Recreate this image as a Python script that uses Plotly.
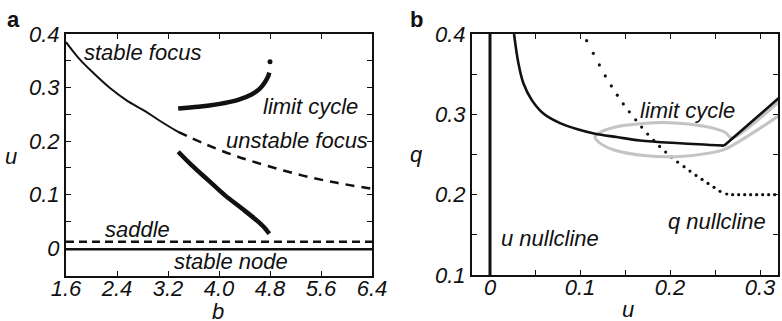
import plotly.graph_objects as go

W, H = 782, 321

# ---------------- Panel a data ----------------
b_stable_focus = [1.60, 1.82, 2.03, 2.29, 2.55, 2.84, 3.07, 3.36]
u_stable_focus = [0.385, 0.352, 0.327, 0.299, 0.276, 0.256, 0.238, 0.217]

b_unstable_focus = [3.36, 3.75, 4.22, 4.75, 5.30, 5.85, 6.40]
u_unstable_focus = [0.217, 0.196, 0.174, 0.154, 0.136, 0.122, 0.111]

b_lc_max = [3.36, 3.68, 3.99, 4.30, 4.51, 4.64, 4.72, 4.77, 4.79]
u_lc_max = [0.261, 0.264, 0.269, 0.277, 0.287, 0.298, 0.310, 0.321, 0.328]
b_lc_max_dot = [4.80]
u_lc_max_dot = [0.348]

b_lc_min = [3.36, 3.57, 3.83, 4.09, 4.36, 4.56, 4.70, 4.77, 4.79]
u_lc_min = [0.180, 0.155, 0.127, 0.099, 0.074, 0.055, 0.040, 0.030, 0.027]

b_span = [1.6, 6.4]
u_saddle = [0.012, 0.012]
u_node = [-0.002, -0.002]

a_xticks = [1.6, 2.4, 3.2, 4.0, 4.8, 5.6, 6.4]
a_xlabels = ["1.6", "2.4", "3.2", "4.0", "4.8", "5.6", "6.4"]
a_yticks = [0.0, 0.05, 0.1, 0.15, 0.2, 0.25, 0.3, 0.35, 0.4]
a_ylabels = ["0", "", "0.1", "", "0.2", "", "0.3", "", "0.4"]

# ---------------- Panel b data ----------------
u_vert = [0.0, 0.0]
q_vert = [0.1, 0.4]

u_ncl_curve = [0.0267, 0.0315, 0.037, 0.0463, 0.0593, 0.0778, 0.0963, 0.1167,
               0.1407, 0.1667, 0.211, 0.260]
q_ncl_curve = [0.400, 0.364, 0.339, 0.318, 0.301, 0.289, 0.2816, 0.2758,
               0.2717, 0.2675, 0.264, 0.261]
u_ncl_line = [0.260, 0.330]
q_ncl_line = [0.261, 0.329]

u_cycle = [0.330, 0.262, 0.245, 0.211, 0.174, 0.137, 0.120, 0.1167, 0.125,
           0.145, 0.174, 0.192, 0.220, 0.248, 0.262, 0.2685, 0.330]
q_cycle = [0.305, 0.257, 0.252, 0.2476, 0.2484, 0.2559, 0.2662, 0.2720, 0.2790,
           0.2855, 0.2890, 0.2898, 0.2880, 0.2828, 0.2770, 0.2704, 0.325]

u_qncl = [0.1074, 0.1148, 0.1215, 0.1281, 0.1348, 0.1415, 0.1481, 0.1548,
          0.1619, 0.1685, 0.1752, 0.1819, 0.1885, 0.1952, 0.2019, 0.2085,
          0.2156, 0.2222, 0.2289, 0.2356, 0.2422, 0.2489, 0.2556, 0.2630,
          0.2696, 0.2763, 0.2830, 0.2896, 0.2963, 0.3030, 0.3096, 0.3163]
q_qncl = [0.3917, 0.3760, 0.3615, 0.3478, 0.3354, 0.3238, 0.3130, 0.3031,
          0.2932, 0.2841, 0.2754, 0.2675, 0.2600, 0.2530, 0.2468, 0.2406,
          0.2348, 0.2294, 0.2240, 0.2190, 0.2140, 0.2091, 0.2041, 0.2008,
          0.2000, 0.2000, 0.2000, 0.2000, 0.2000, 0.2000, 0.2000, 0.2000]

b_xticks = [0.0, 0.05, 0.1, 0.15, 0.2, 0.25, 0.3]
b_xlabels = ["0", "", "0.1", "", "0.2", "", "0.3"]
b_yticks = [0.1, 0.15, 0.2, 0.25, 0.3, 0.35, 0.4]
b_ylabels = ["0.1", "", "0.2", "", "0.3", "", "0.4"]

FONT = "Liberation Sans, Arial, Helvetica, sans-serif"
FS = 22
BLACK = "#111111"
GRAY = "#c4c4c4"


def px(x):
    return x / W


def py(y):
    return 1 - y / H


fig = go.Figure()

# Panel a traces
fig.add_trace(go.Scatter(x=b_span, y=u_node, mode="lines",
                         line=dict(color=BLACK, width=2.5), xaxis="x", yaxis="y"))
fig.add_trace(go.Scatter(x=b_span, y=u_saddle, mode="lines",
                         line=dict(color=BLACK, width=2.5, dash="8px,5px"), xaxis="x", yaxis="y"))
fig.add_trace(go.Scatter(x=b_stable_focus, y=u_stable_focus, mode="lines",
                         line=dict(color=BLACK, width=2, shape="spline"), xaxis="x", yaxis="y"))
fig.add_trace(go.Scatter(x=b_unstable_focus, y=u_unstable_focus, mode="lines",
                         line=dict(color=BLACK, width=2.5, dash="9px,7px", shape="spline"),
                         xaxis="x", yaxis="y"))
fig.add_trace(go.Scatter(x=b_lc_max, y=u_lc_max, mode="lines",
                         line=dict(color=BLACK, width=4.5, shape="spline"), xaxis="x", yaxis="y"))
fig.add_trace(go.Scatter(x=b_lc_min, y=u_lc_min, mode="lines",
                         line=dict(color=BLACK, width=4.5, shape="spline"), xaxis="x", yaxis="y"))
fig.add_trace(go.Scatter(x=b_lc_max_dot, y=u_lc_max_dot, mode="markers",
                         marker=dict(color=BLACK, size=5), xaxis="x", yaxis="y"))

# Panel b traces
fig.add_trace(go.Scatter(x=u_qncl, y=q_qncl, mode="markers",
                         marker=dict(color=BLACK, size=3.2), xaxis="x2", yaxis="y2"))
fig.add_trace(go.Scatter(x=u_cycle, y=q_cycle, mode="lines",
                         line=dict(color=GRAY, width=3, shape="spline", smoothing=0.8),
                         xaxis="x2", yaxis="y2"))
fig.add_trace(go.Scatter(x=u_vert, y=q_vert, mode="lines",
                         line=dict(color=BLACK, width=3), xaxis="x2", yaxis="y2"))
fig.add_trace(go.Scatter(x=u_ncl_curve, y=q_ncl_curve, mode="lines",
                         line=dict(color=BLACK, width=2.6, shape="spline"), xaxis="x2", yaxis="y2"))
fig.add_trace(go.Scatter(x=u_ncl_line, y=q_ncl_line, mode="lines",
                         line=dict(color=BLACK, width=2.6), xaxis="x2", yaxis="y2"))

tickfont = dict(family=FONT, size=FS, color=BLACK, style="italic")
axis_common = dict(showline=True, linecolor=BLACK, linewidth=2, mirror="ticks",
                   ticks="inside", ticklen=5, tickwidth=1.2, tickcolor=BLACK,
                   showgrid=False, zeroline=False, tickfont=tickfont, automargin=False)

fig.update_layout(
    width=W, height=H,
    margin=dict(l=0, r=0, t=0, b=0),
    paper_bgcolor="white", plot_bgcolor="white",
    showlegend=False,
    xaxis=dict(domain=[px(66), px(372)], range=[1.6, 6.4], tickvals=a_xticks,
               ticktext=a_xlabels, anchor="y", ticklabelstandoff=-8, **axis_common),
    yaxis=dict(domain=[py(276), py(34)], range=[-0.052, 0.4], tickvals=a_yticks,
               ticktext=a_ylabels, anchor="x", **axis_common),
    xaxis2=dict(domain=[px(472), px(778)], range=[-0.02, 0.32], tickvals=b_xticks,
                ticktext=b_xlabels, anchor="y2", ticklabelstandoff=-8, **axis_common),
    yaxis2=dict(domain=[py(275), py(34)], range=[0.1, 0.4], tickvals=b_yticks,
                ticktext=b_ylabels, anchor="x2", **axis_common),
)

ann_font = dict(family=FONT, size=FS, color=BLACK, style="italic")
labels = [
    ("stable focus", 142, 52),
    ("limit cycle", 310, 106),
    ("unstable focus", 297, 141),
    ("saddle", 137, 229),
    ("stable node", 231, 261),
    ("limit cycle", 687, 111),
    ("q nullcline", 717, 221),
    ("u nullcline", 550, 238),
    ("b", 218, 311),
    ("u", 11, 157),
    ("u", 628, 309),
    ("q", 416, 154),
]
for text, x, y in labels:
    fig.add_annotation(text=text, x=px(x), y=py(y), xref="paper", yref="paper",
                       showarrow=False, xanchor="center", yanchor="middle", font=ann_font)

panel_font = dict(family=FONT, size=FS, color=BLACK, weight="bold")
fig.add_annotation(text="a", x=px(13), y=py(19), xref="paper", yref="paper",
                   showarrow=False, xanchor="center", yanchor="middle", font=panel_font)
fig.add_annotation(text="b", x=px(416), y=py(19), xref="paper", yref="paper",
                   showarrow=False, xanchor="center", yanchor="middle", font=panel_font)

fig.write_html("out.html", config={"displayModeBar": False},
               post_script="document.body.style.margin='0';document.body.style.overflow='hidden';")
